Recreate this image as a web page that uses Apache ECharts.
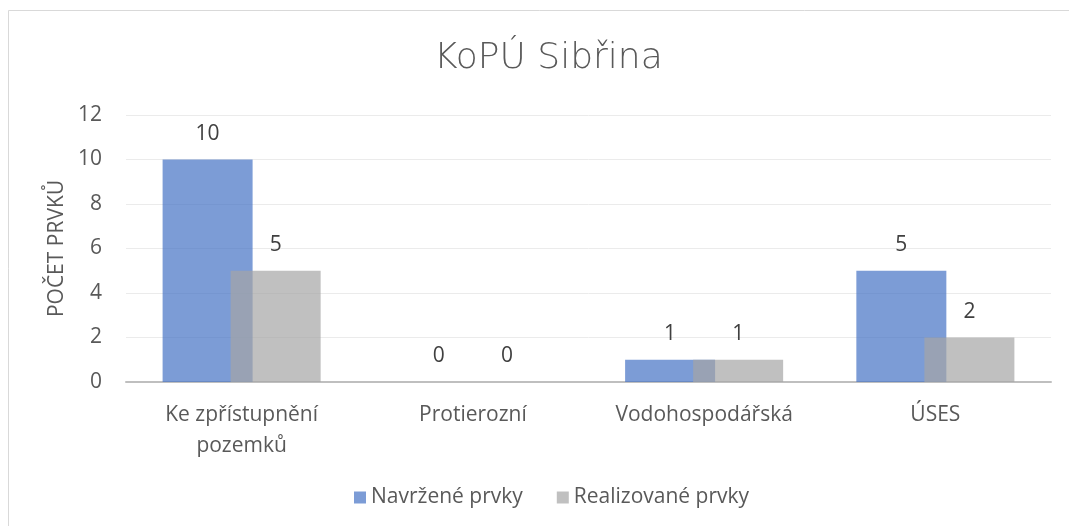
<!DOCTYPE html>
<html><head><meta charset="utf-8">
<script src="https://cdn.jsdelivr.net/npm/echarts@6/dist/echarts.min.js"></script>
<style>html,body{margin:0;padding:0;background:#fff}#c{width:1069px;height:526px}</style>
</head><body><div id="c"></div>
<script>
const categories = ['Ke zpřístupnění\npozemků', 'Protierozní', 'Vodohospodářská', 'ÚSES'];
const navrzene = [10, 0, 1, 5];
const realizovane = [5, 0, 1, 2];
const yTicks = [0, 2, 4, 6, 8, 10, 12];
const FONT = '"Open Sans", sans-serif';
const FS = 21;
const chart = echarts.init(document.getElementById('c'));
const lbl = {show: true, position: 'top', distance: 15, color: '#404040', fontSize: FS, fontFamily: FONT};
chart.setOption({
  animation: false,
  backgroundColor: '#fff',
  graphic: [{type: 'rect', shape: {x: 8.5, y: 10.5, width: 1100, height: 600}, style: {fill: 'none', stroke: '#d9d9d9', lineWidth: 1}, silent: true}],
  title: {text: 'KoPÚ Sibřina', left: 429, top: 36, textStyle: {fontFamily: '"DejaVu Sans", sans-serif', fontWeight: 200, fontSize: 36, color: '#595959'}},
  legend: {top: 482, left: 349, itemWidth: 12, itemHeight: 12, itemGap: 34, icon: 'rect',
    textStyle: {fontFamily: FONT, fontSize: FS, color: '#595959'}},
  grid: {left: 126, right: 18, top: 115, bottom: 144},
  xAxis: {type: 'category', data: categories,
    axisLine: {lineStyle: {color: '#bfbfbf', width: 2}}, axisTick: {show: false},
    axisLabel: {fontFamily: FONT, fontSize: FS, color: '#595959', margin: 18, lineHeight: 31}},
  yAxis: {type: 'value', min: yTicks[0], max: yTicks[yTicks.length-1], interval: 2,
    name: 'POČET PRVKŮ', nameLocation: 'middle', nameGap: 57, nameRotate: 90,
    nameTextStyle: {fontFamily: FONT, fontSize: FS, color: '#595959'},
    axisLine: {show: false}, axisTick: {show: false},
    axisLabel: {fontFamily: FONT, fontSize: FS, color: '#595959', margin: 24},
    splitLine: {lineStyle: {color: '#ebebeb', width: 1}}},
  series: [
    {name: 'Navržené prvky', type: 'bar', data: navrzene, barWidth: 90, barGap: '-24.4%',
      itemStyle: {color: 'rgba(68,114,196,0.7)'}, label: lbl},
    {name: 'Realizované prvky', type: 'bar', data: realizovane, barWidth: 90,
      itemStyle: {color: 'rgba(165,165,165,0.7)'}, label: lbl}
  ]
});
</script></body></html>
